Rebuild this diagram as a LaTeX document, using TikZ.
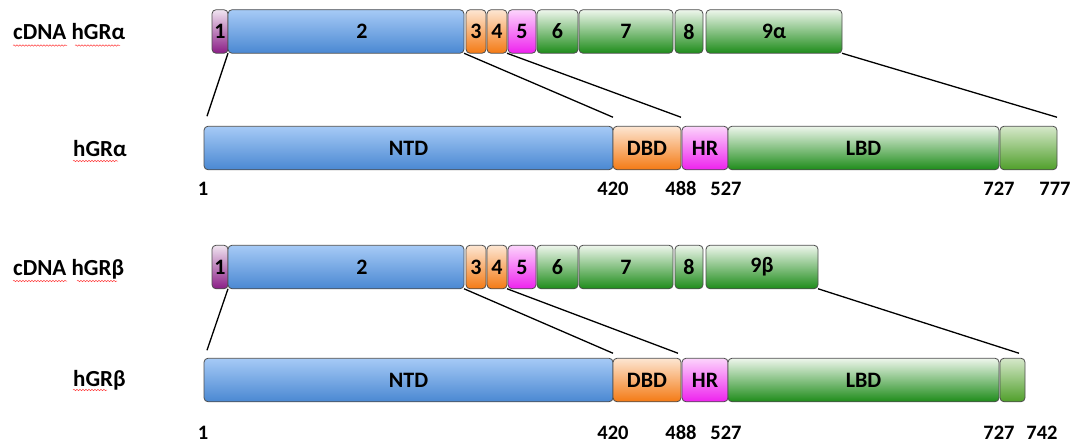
\documentclass[tikz,border=0pt]{standalone}
\usepackage{fontspec}
\setmainfont{Carlito}
\usetikzlibrary{positioning, decorations.pathmorphing}

\definecolor{edge}{HTML}{4D4D4D}
\definecolor{purpT}{HTML}{F0E4F0}
\definecolor{purpB}{HTML}{8A1D86}
\definecolor{blueT}{HTML}{A6CAF6}
\definecolor{blueB}{HTML}{4A88D2}
\definecolor{oranT}{HTML}{FDE6D2}
\definecolor{oranB}{HTML}{F47A14}
\definecolor{magT}{HTML}{FCD4FC}
\definecolor{magB}{HTML}{EE22EE}
\definecolor{greenT}{HTML}{EEF6EC}
\definecolor{greenB}{HTML}{1E8C1A}
\definecolor{tailT}{HTML}{D6E8CA}
\definecolor{tailB}{HTML}{4F9F2A}

\begin{document}
\begin{tikzpicture}[x=1pt, y=-1pt,
    box/.style={draw=edge, line width=0.8pt, rounded corners=4pt, minimum height=43.5pt,
        inner sep=0pt, outer sep=0pt, font=\fontsize{22}{22}\selectfont\bfseries},
    purp/.style={top color=purpT, bottom color=purpB},
    blu/.style={top color=blueT, bottom color=blueB},
    oran/.style={top color=oranT, bottom color=oranB},
    mag/.style={top color=magT, bottom color=magB},
    grn/.style={top color=greenT, bottom color=greenB},
    tl/.style={top color=tailT, bottom color=tailB},
    rowlabel/.style={anchor=base west, inner sep=0pt, font=\fontsize{23}{23}\selectfont\bfseries},
    num/.style={anchor=base, inner sep=0pt, font=\fontsize{20.5}{20.5}\selectfont\bfseries},
    link/.style={line width=1.3pt},
    spell/.style={draw=red!75, line width=0.5pt, decorate,
        decoration={snake, amplitude=0.7pt, segment length=3pt}}]
    \useasboundingbox (0,0) rectangle (1075,444);

    % cDNA hGR alpha
    \node[rowlabel] (cdnaA) at (13,40) {cDNA hGRα};
    \node[box, purp, minimum width=16pt] (a1) at (220,31.5) {1};
    \node[box, blu, minimum width=236pt, right=0pt of a1] (a2) {\hspace*{32pt}2};
    \node[box, oran, minimum width=20pt, right=2pt of a2] (a3) {3};
    \node[box, oran, minimum width=20pt, right=1pt of a3] (a4) {4};
    \node[box, mag, minimum width=28pt, right=1pt of a4] (a5) {5};
    \node[box, grn, minimum width=41pt, right=1pt of a5] (a6) {6};
    \node[box, grn, minimum width=94pt, right=1pt of a6] (a7) {7};
    \node[box, grn, minimum width=28pt, right=2pt of a7] (a8) {8};
    \node[box, grn, minimum width=136pt, right=3pt of a8] (a9) {9α};

    % hGR alpha protein
    \node[rowlabel] (protA) at (73,156) {hGRα};
    \node[box, blu, minimum width=409pt] (ntdA) at (408.5,148) {NTD};
    \node[box, oran, minimum width=68pt, right=0pt of ntdA] (dbdA) {DBD};
    \node[box, mag, minimum width=46pt, right=1pt of dbdA] (hrA) {HR};
    \node[box, grn, minimum width=271pt, right=0pt of hrA] (lbdA) {LBD};
    \node[box, tl, minimum width=57pt, right=1pt of lbdA] (tailA) {};

    \node[num] (nA1) at (203,195) {1};
    \node[num] (nA420) at (613,195) {420};
    \node[num] (nA488) at (681,195) {488};
    \node[num] (nA527) at (726,195) {527};
    \node[num] (nA727) at (999,195) {727};
    \node[num] (nA777) at (1055,195) {777};

    \draw[link] (a1.south east) -- ([shift={(3pt,10pt)}]ntdA.north west);
    \draw[link] (a2.south east) -- ([yshift=9pt]ntdA.north east);
    \draw[link] (a4.south east) -- ([yshift=9pt]dbdA.north east);
    \draw[link] (a9.south east) -- ([yshift=9pt]tailA.north east);

    % cDNA hGR beta
    \node[rowlabel] (cdnaB) at (13,275) {cDNA hGRβ};
    \node[box, purp, minimum width=16pt] (b1) at (220,267) {1};
    \node[box, blu, minimum width=236pt, right=0pt of b1] (b2) {\hspace*{32pt}2};
    \node[box, oran, minimum width=20pt, right=2pt of b2] (b3) {3};
    \node[box, oran, minimum width=20pt, right=1pt of b3] (b4) {4};
    \node[box, mag, minimum width=28pt, right=1pt of b4] (b5) {5};
    \node[box, grn, minimum width=41pt, right=1pt of b5] (b6) {6};
    \node[box, grn, minimum width=94pt, right=1pt of b6] (b7) {7};
    \node[box, grn, minimum width=28pt, right=2pt of b7] (b8) {8};
    \node[box, grn, minimum width=112pt, right=3pt of b8] (b9) {9β};

    % hGR beta protein
    \node[rowlabel] (protB) at (73,386) {hGRβ};
    \node[box, blu, minimum width=409pt] (ntdB) at (408.5,380) {NTD};
    \node[box, oran, minimum width=68pt, right=0pt of ntdB] (dbdB) {DBD};
    \node[box, mag, minimum width=46pt, right=1pt of dbdB] (hrB) {HR};
    \node[box, grn, minimum width=271pt, right=0pt of hrB] (lbdB) {LBD};
    \node[box, tl, minimum width=25pt, right=1pt of lbdB] (tailB) {};

    \node[num] (nB1) at (203,439) {1};
    \node[num] (nB420) at (613,439) {420};
    \node[num] (nB488) at (681,439) {488};
    \node[num] (nB527) at (726,439) {527};
    \node[num] (nB727) at (999,439) {727};
    \node[num] (nB742) at (1042,439) {742};

    \draw[link] (b1.south east) -- ([shift={(3pt,8pt)}]ntdB.north west);
    \draw[link] (b2.south east) -- ([yshift=5pt]ntdB.north east);
    \draw[link] (b4.south east) -- ([shift={(-3pt,5pt)}]dbdB.north east);
    \draw[link] (b9.south east) -- ([shift={(-6pt,5pt)}]tailB.north east);

    % spell-check marks
    \draw[spell] (13,45.5) -- (67,45.5);
    \draw[spell] (75,45.5) -- (120,45.5);
    \draw[spell] (73,161) -- (118,161);
    \draw[spell] (13,281) -- (67,281);
    \draw[spell] (77,281) -- (117,281);
    \draw[spell] (73,390) -- (107,390);
\end{tikzpicture}
\end{document}
